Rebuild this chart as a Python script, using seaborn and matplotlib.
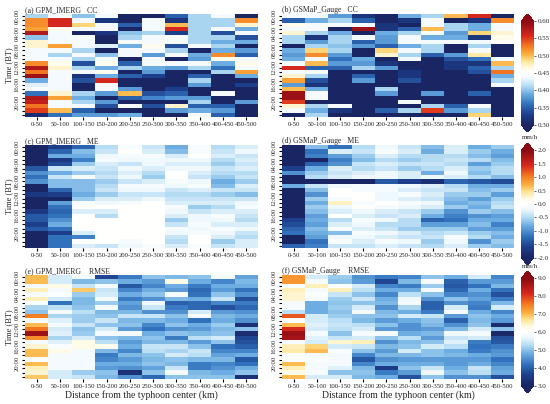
import numpy as np
import pandas as pd
import seaborn as sns
import matplotlib.pyplot as plt
from matplotlib.colors import LinearSegmentedColormap

distance = ["0-50", "50-100", "100-150", "150-200", "200-250",
            "250-300", "300-350", "350-400", "400-450", "450-500"]
time_labels = ["00:00", "04:00", "08:00", "12:00", "16:00", "20:00"]
time_rows = [0, 4, 8, 12, 16, 20]

# values per distance bin (outer list), 24 hourly rows each (inner list)
cc_imerg = [
    [0.41, 0.52, 0.52, 0.51, 0.58, 0.40, 0.47, 0.47, 0.44, 0.44, 0.44, 0.52, 0.58, 0.53, 0.59, 0.39, 0.43, 0.44, 0.36, 0.58, 0.57, 0.53, 0.55, 0.31],
    [0.44, 0.56, 0.56, 0.46, 0.44, 0.44, 0.44, 0.51, 0.44, 0.41, 0.44, 0.46, 0.47, 0.44, 0.44, 0.44, 0.44, 0.44, 0.47, 0.51, 0.44, 0.44, 0.50, 0.36],
    [0.40, 0.44, 0.49, 0.44, 0.29, 0.44, 0.44, 0.44, 0.41, 0.44, 0.41, 0.34, 0.41, 0.44, 0.32, 0.34, 0.29, 0.29, 0.41, 0.39, 0.41, 0.44, 0.35, 0.38],
    [0.44, 0.32, 0.44, 0.44, 0.32, 0.29, 0.29, 0.43, 0.29, 0.40, 0.44, 0.46, 0.39, 0.46, 0.39, 0.56, 0.44, 0.44, 0.38, 0.29, 0.38, 0.34, 0.29, 0.38],
    [0.29, 0.29, 0.35, 0.29, 0.40, 0.41, 0.44, 0.39, 0.44, 0.44, 0.29, 0.35, 0.41, 0.29, 0.35, 0.29, 0.29, 0.38, 0.50, 0.35, 0.29, 0.44, 0.29, 0.39],
    [0.29, 0.44, 0.44, 0.44, 0.41, 0.44, 0.44, 0.46, 0.44, 0.38, 0.44, 0.44, 0.39, 0.38, 0.33, 0.29, 0.29, 0.29, 0.34, 0.37, 0.29, 0.34, 0.29, 0.29],
    [0.35, 0.32, 0.50, 0.56, 0.33, 0.44, 0.44, 0.34, 0.41, 0.44, 0.29, 0.44, 0.38, 0.29, 0.29, 0.29, 0.29, 0.33, 0.35, 0.38, 0.29, 0.47, 0.38, 0.29],
    [0.41, 0.41, 0.41, 0.41, 0.41, 0.41, 0.41, 0.44, 0.29, 0.39, 0.38, 0.44, 0.41, 0.29, 0.35, 0.41, 0.38, 0.29, 0.29, 0.38, 0.41, 0.35, 0.39, 0.44],
    [0.44, 0.41, 0.41, 0.44, 0.34, 0.41, 0.39, 0.41, 0.39, 0.52, 0.46, 0.39, 0.36, 0.41, 0.29, 0.29, 0.29, 0.29, 0.44, 0.29, 0.29, 0.35, 0.38, 0.35],
    [0.29, 0.52, 0.47, 0.39, 0.44, 0.34, 0.39, 0.29, 0.38, 0.35, 0.44, 0.46, 0.44, 0.51, 0.39, 0.29, 0.33, 0.29, 0.29, 0.29, 0.38, 0.29, 0.29, 0.29],
]
cc_gsmap = [
    [0.44, 0.35, 0.46, 0.44, 0.47, 0.41, 0.41, 0.29, 0.39, 0.38, 0.39, 0.44, 0.56, 0.44, 0.47, 0.51, 0.38, 0.50, 0.59, 0.59, 0.55, 0.47, 0.44, 0.29],
    [0.44, 0.39, 0.44, 0.44, 0.41, 0.32, 0.38, 0.41, 0.49, 0.52, 0.44, 0.50, 0.35, 0.44, 0.41, 0.34, 0.32, 0.39, 0.44, 0.44, 0.29, 0.41, 0.39, 0.41],
    [0.38, 0.41, 0.44, 0.29, 0.39, 0.41, 0.41, 0.40, 0.41, 0.38, 0.36, 0.38, 0.35, 0.29, 0.29, 0.29, 0.29, 0.29, 0.29, 0.29, 0.29, 0.44, 0.32, 0.29],
    [0.32, 0.35, 0.44, 0.59, 0.29, 0.44, 0.35, 0.38, 0.29, 0.29, 0.39, 0.38, 0.41, 0.29, 0.35, 0.38, 0.29, 0.29, 0.29, 0.29, 0.29, 0.29, 0.29, 0.29],
    [0.29, 0.29, 0.32, 0.32, 0.39, 0.38, 0.38, 0.35, 0.49, 0.47, 0.29, 0.32, 0.38, 0.29, 0.29, 0.29, 0.29, 0.41, 0.38, 0.29, 0.29, 0.29, 0.35, 0.29],
    [0.39, 0.32, 0.29, 0.35, 0.41, 0.44, 0.44, 0.39, 0.44, 0.41, 0.44, 0.29, 0.29, 0.32, 0.32, 0.34, 0.29, 0.29, 0.29, 0.29, 0.44, 0.29, 0.41, 0.29],
    [0.41, 0.44, 0.44, 0.50, 0.44, 0.39, 0.44, 0.41, 0.41, 0.35, 0.29, 0.29, 0.29, 0.29, 0.29, 0.29, 0.29, 0.29, 0.38, 0.29, 0.29, 0.41, 0.55, 0.29],
    [0.50, 0.29, 0.41, 0.41, 0.38, 0.39, 0.44, 0.29, 0.29, 0.38, 0.34, 0.32, 0.32, 0.29, 0.29, 0.29, 0.29, 0.29, 0.29, 0.29, 0.29, 0.35, 0.38, 0.29],
    [0.56, 0.32, 0.39, 0.39, 0.49, 0.32, 0.44, 0.41, 0.44, 0.48, 0.36, 0.32, 0.35, 0.34, 0.29, 0.29, 0.29, 0.29, 0.35, 0.29, 0.29, 0.44, 0.41, 0.49],
    [0.29, 0.52, 0.44, 0.44, 0.47, 0.46, 0.45, 0.29, 0.29, 0.29, 0.44, 0.50, 0.41, 0.53, 0.39, 0.41, 0.44, 0.29, 0.29, 0.29, 0.29, 0.29, 0.29, 0.29],
]
me_imerg = [
    [-2.2, -2.2, -2.2, -2.2, -2.2, -1.4, -1.0, -1.2, -1.0, -2.2, -2.2, -1.7, -2.2, -2.2, -2.2, -1.7, -1.4, -1.4, -1.6, -1.4, -2.2, -2.2, -2.2, -2.2],
    [-1.6, -1.3, -0.8, -1.7, -1.5, -0.4, -0.8, -0.4, -0.7, -0.7, -1.3, -1.6, -2.2, -0.9, -1.2, -1.3, -1.2, -1.0, -0.8, -1.2, -1.6, -1.2, -1.2, -1.2],
    [-1.3, -0.7, -0.8, -1.1, -0.6, -0.3, -0.6, -0.1, -0.7, -0.7, -0.7, -0.8, -0.6, -0.1, 0.0, -0.3, 0.0, 0.0, 0.0, 0.0, -0.3, -1.1, 0.0, -0.3],
    [-0.5, -0.4, -0.2, -0.1, -0.3, -0.4, -0.5, -0.4, -0.6, -0.5, -0.4, -0.6, -0.3, -0.2, 0.0, -0.3, -0.5, 0.0, 0.0, 0.0, 0.0, 0.0, 0.0, -0.4],
    [-0.1, 0.0, -0.1, -0.2, -0.4, -0.2, -0.3, -0.2, -0.4, -0.1, -0.2, -0.4, -0.3, -0.1, 0.0, 0.0, 0.0, 0.0, 0.0, 0.0, 0.0, 0.0, -0.1, -0.2],
    [-0.4, -0.3, -0.1, -0.2, -0.2, -0.3, -0.5, -0.6, -0.3, -0.1, -0.2, -0.4, -0.2, 0.0, 0.0, 0.0, 0.0, 0.0, 0.0, 0.0, 0.0, 0.0, 0.0, -0.1],
    [-0.8, -0.7, -0.3, -0.2, -0.3, -0.2, 0.0, 0.0, -0.1, -0.2, -0.4, -0.5, -0.4, -0.3, -0.1, -0.2, -0.3, -0.6, -0.4, -0.1, -0.2, -0.4, -0.5, -0.3],
    [-0.1, -0.1, 0.0, -0.2, -0.3, -0.2, -0.3, -0.4, -0.2, -0.1, -0.3, -0.5, -0.4, -0.3, -0.6, -0.4, -0.2, -0.2, -0.1, -0.2, -0.1, 0.0, 0.0, -0.1],
    [-0.5, -0.4, -0.3, -0.5, -0.6, -0.4, -0.5, -0.6, -0.8, -0.7, -0.4, -0.6, -0.4, -0.3, -0.5, -0.3, -0.1, -0.2, -0.3, -0.1, -0.2, -0.3, -0.6, -0.4],
    [-0.3, -0.2, -0.4, -0.3, -0.4, -0.3, -0.5, -0.4, -0.6, -0.3, -0.4, -0.7, -0.4, -0.2, -0.1, -0.3, -0.4, -0.5, -0.3, -0.2, -0.4, -0.5, -0.3, -0.3],
]
me_gsmap = [
    [-2.2, -2.2, -2.2, -2.2, -2.2, -1.6, -1.0, -2.2, -2.2, -0.8, -2.2, -2.2, -2.2, -2.2, -2.2, -2.2, -2.2, -1.6, -1.5, -1.3, -1.2, -2.0, -2.2, -1.3],
    [-0.7, -1.2, -1.1, -2.0, -1.3, -0.8, -0.6, -0.5, -2.2, -0.4, -0.7, -1.0, -0.6, -0.8, -0.6, -0.7, -0.9, -0.8, -0.9, -0.7, -0.8, -0.9, -1.2, -1.1],
    [-1.2, -0.3, -0.9, -1.1, -1.0, -0.3, -0.4, -0.3, -2.2, -0.2, 0.0, 0.0, -0.1, 0.3, -0.2, -0.3, 0.0, -0.5, -0.3, -0.1, -0.7, -0.2, -0.1, -0.4],
    [-0.5, -0.4, -0.6, -0.7, -0.4, -0.5, -0.3, -0.2, -2.1, -0.1, -0.1, 0.0, 0.0, -0.1, 0.0, -0.2, -0.3, -0.1, -0.2, -0.3, -0.1, -0.2, -0.3, -0.4],
    [-0.2, -0.1, -0.3, -0.5, -0.3, -0.4, -0.2, -0.2, -1.4, -0.1, -0.1, -0.2, -0.2, 0.0, -0.1, -0.3, -0.4, -0.2, -0.5, -0.4, -0.2, -0.3, -0.1, -0.3],
    [-0.4, -0.3, -0.5, -0.6, -0.4, -0.6, -0.3, -0.3, -1.6, -0.2, -0.3, -0.1, -0.3, -0.1, -0.2, -0.4, -0.3, -0.5, -0.5, -0.6, -0.3, -0.4, -0.2, -0.4],
    [-0.7, -0.8, -0.5, -0.5, -0.4, -0.5, -0.8, -0.2, -1.8, -0.3, -0.4, -0.3, -0.4, -0.2, -0.3, -0.6, -0.8, -1.3, -0.9, -0.6, -0.5, -0.4, -0.6, -0.5],
    [-0.3, -0.3, -0.5, -0.4, -0.5, -0.3, -0.2, -0.3, -1.3, -0.5, -0.4, -0.6, -0.7, -0.8, -0.6, -1.0, -1.1, -1.2, -0.9, -0.6, -0.4, -0.1, -0.2, -0.3],
    [-0.8, -0.6, -0.7, -0.5, -0.9, -0.6, -0.7, -0.5, -1.4, -0.8, -0.7, -0.6, -0.9, -0.7, -0.8, -0.6, -1.0, -0.8, -0.7, -0.9, -0.6, -0.5, -1.0, -0.6],
    [-0.6, -0.8, -0.9, -0.7, -0.6, -0.5, -0.5, -0.7, -1.5, -0.8, -0.6, -0.9, -0.6, -0.5, -0.4, -0.7, -0.9, -0.8, -1.1, -0.9, -0.7, -0.8, -0.6, -0.7],
]
rmse_imerg = [
    [7.0, 7.0, 5.8, 6.5, 5.8, 6.5, 5.9, 5.2, 5.0, 7.5, 5.8, 7.0, 7.6, 8.8, 7.4, 5.8, 6.4, 7.0, 7.0, 5.9, 7.0, 6.5, 6.4, 6.9],
    [5.5, 5.5, 6.3, 5.8, 5.9, 5.5, 4.2, 5.3, 5.8, 5.2, 5.6, 5.8, 5.5, 5.6, 5.2, 5.6, 5.9, 6.3, 5.8, 5.8, 5.8, 5.8, 5.5, 5.5],
    [5.8, 4.9, 5.4, 6.9, 5.1, 4.9, 4.9, 5.0, 5.3, 5.1, 5.1, 5.4, 5.0, 5.1, 5.5, 6.3, 6.3, 5.8, 5.8, 5.8, 5.8, 5.8, 5.1, 5.4],
    [3.7, 5.0, 5.8, 5.4, 5.5, 5.8, 5.1, 5.8, 4.9, 5.0, 5.4, 5.0, 5.5, 5.8, 5.0, 5.3, 6.2, 4.9, 4.3, 4.4, 4.8, 4.6, 5.0, 4.9],
    [4.3, 4.8, 3.9, 4.4, 4.8, 4.3, 4.7, 4.5, 4.9, 5.4, 4.9, 5.0, 4.6, 5.8, 4.9, 4.6, 4.8, 4.4, 4.9, 4.6, 4.8, 4.5, 3.3, 4.5],
    [5.0, 4.6, 4.4, 4.8, 5.0, 4.5, 5.7, 5.4, 4.5, 5.4, 4.9, 4.4, 4.2, 4.8, 5.0, 4.9, 5.4, 5.3, 5.0, 4.9, 5.0, 4.7, 5.0, 4.1],
    [4.9, 6.3, 4.8, 4.6, 5.8, 4.9, 4.0, 4.3, 4.5, 5.0, 4.8, 5.0, 4.5, 5.0, 4.3, 4.9, 5.4, 5.2, 5.5, 5.0, 4.9, 5.4, 5.8, 5.0],
    [5.0, 4.8, 4.3, 4.1, 4.2, 4.8, 4.1, 4.1, 5.5, 5.8, 4.2, 4.8, 4.6, 4.9, 5.3, 4.6, 5.0, 5.4, 5.3, 4.9, 4.3, 4.3, 4.9, 5.0],
    [5.8, 4.4, 4.8, 4.6, 5.0, 5.4, 4.4, 3.8, 4.6, 4.9, 4.8, 5.1, 4.9, 5.0, 5.5, 5.0, 4.2, 4.4, 4.7, 4.9, 4.4, 4.5, 4.8, 5.0],
    [4.7, 4.9, 4.8, 4.2, 4.5, 3.8, 4.3, 4.1, 4.5, 4.8, 4.5, 3.3, 5.0, 3.2, 3.7, 3.8, 4.0, 4.4, 4.8, 3.9, 4.2, 4.8, 5.0, 3.3],
]
rmse_gsmap = [
    [7.3, 7.3, 5.9, 6.5, 6.4, 6.4, 5.8, 5.8, 5.3, 7.8, 5.9, 7.0, 8.2, 8.8, 8.7, 5.8, 6.5, 6.6, 5.9, 5.9, 7.0, 6.5, 6.3, 7.0],
    [5.5, 5.8, 6.5, 5.8, 5.9, 5.8, 4.8, 4.8, 4.8, 5.5, 5.5, 5.6, 5.5, 5.8, 5.6, 5.5, 6.8, 7.0, 5.8, 5.9, 5.8, 5.8, 5.8, 5.5],
    [5.1, 5.0, 5.9, 6.5, 5.4, 5.1, 5.0, 5.1, 5.0, 5.1, 5.3, 5.4, 5.3, 5.0, 5.4, 6.4, 5.5, 5.9, 5.8, 5.8, 5.8, 5.6, 5.0, 5.5],
    [4.5, 4.6, 5.5, 5.3, 5.0, 5.4, 5.0, 5.5, 5.8, 5.0, 4.9, 5.3, 5.5, 5.8, 5.5, 6.5, 5.4, 5.0, 4.4, 3.9, 4.4, 4.9, 5.0, 4.9],
    [4.3, 3.7, 4.4, 4.8, 4.4, 4.8, 4.9, 4.5, 4.9, 5.0, 4.6, 5.0, 4.6, 5.8, 5.0, 4.5, 4.9, 4.6, 4.9, 4.5, 4.8, 3.5, 4.3, 4.8],
    [4.4, 4.9, 4.3, 4.8, 5.3, 5.7, 5.8, 5.2, 4.8, 5.5, 4.8, 4.5, 4.5, 4.8, 5.3, 4.9, 5.0, 5.5, 4.9, 4.6, 4.8, 5.0, 4.6, 3.8],
    [5.0, 5.8, 5.1, 5.8, 5.0, 4.5, 4.0, 4.0, 4.3, 5.4, 5.0, 4.9, 4.6, 4.9, 4.6, 5.0, 5.5, 5.0, 5.0, 4.6, 4.8, 5.4, 5.7, 5.0],
    [4.8, 4.0, 3.9, 4.1, 4.4, 5.0, 4.5, 5.5, 5.8, 4.6, 4.0, 4.5, 4.9, 5.7, 5.4, 5.6, 5.3, 4.8, 4.9, 4.6, 4.6, 4.8, 5.0, 4.5],
    [5.5, 4.6, 4.2, 4.8, 4.5, 4.7, 4.4, 4.3, 4.8, 5.0, 4.9, 5.0, 5.5, 5.8, 5.5, 4.3, 4.2, 4.3, 4.8, 4.6, 4.8, 5.4, 5.3, 4.5],
    [4.4, 4.6, 4.9, 4.2, 3.8, 4.3, 4.9, 5.5, 4.4, 4.8, 4.6, 3.2, 5.0, 3.1, 3.8, 3.9, 4.3, 4.5, 4.6, 4.2, 4.4, 4.7, 4.8, 3.8],
]

cmap = LinearSegmentedColormap.from_list("bwr_custom", [
    (0.00, "#1a2563"), (0.10, "#1d3f8c"), (0.20, "#3272bd"),
    (0.30, "#6eaee2"), (0.38, "#b8def4"), (0.45, "#eef8fd"),
    (0.50, "#ffffff"), (0.55, "#fffbe6"), (0.62, "#fde28e"),
    (0.68, "#fbb040"), (0.76, "#f47a20"), (0.86, "#d8281e"),
    (1.00, "#8b0a14"),
])

W, H = 550, 404


def rect(x0, y0, x1, y1):
    return [x0 / W, 1 - y1 / H, (x1 - x0) / W, (y1 - y0) / H]


def main() -> None:
    sns.set_style("white")
    plt.rcParams["font.family"] = ["Liberation Serif", "DejaVu Serif"]
    plt.rcParams["axes.unicode_minus"] = False

    fig = plt.figure(figsize=(5.5, 4.04), dpi=100)

    rows = [
        ("CC", cc_imerg, cc_gsmap, 0.30, 0.60, [0.30, 0.35, 0.40, 0.45, 0.50, 0.55, 0.60], "%.2f"),
        ("ME", me_imerg, me_gsmap, -2.0, 2.0, [-2.0, -1.5, -1.0, -0.5, 0.0, 0.5, 1.0, 1.5, 2.0], "%.1f"),
        ("RMSE", rmse_imerg, rmse_gsmap, 3.0, 9.0, [3.0, 4.0, 5.0, 6.0, 7.0, 8.0, 9.0], "%.1f"),
    ]
    rows_y = [(14, 117), (145, 248), (275, 379)]
    cols_x = [(25, 258), (282, 514)]
    cbar_y = [(14, 132), (143, 265), (271, 393)]
    letters = "abcdef"
    products = ["GPM_IMERG", "GSMaP_Gauge"]
    gaps = {"CC": "   ", "ME": "   ", "RMSE": "    "}

    for i, (metric, d_imerg, d_gsmap, vmin, vmax, cticks, fmt) in enumerate(rows):
        mesh = None
        for j, data in enumerate([d_imerg, d_gsmap]):
            ax = fig.add_axes(rect(cols_x[j][0], rows_y[i][0], cols_x[j][1], rows_y[i][1]))
            df = pd.DataFrame(np.array(data).T, columns=distance)
            sns.heatmap(df, ax=ax, cmap=cmap, vmin=vmin, vmax=vmax, cbar=False,
                        xticklabels=distance, yticklabels=False)
            mesh = ax.collections[0]

            ax.set_xticks(np.arange(len(distance)) + 0.5)
            ax.set_xticklabels(distance, rotation=0, fontsize=4.85)
            ax.set_yticks(np.array(time_rows) + 0.5)
            ax.set_yticklabels(time_labels, rotation=90, va="center", fontsize=4.8)
            ax.set_yticks(np.arange(24) + 0.5, minor=True)
            ax.tick_params(axis="both", which="both", direction="out", length=2.2,
                           width=0.8, color="black", pad=1.5, bottom=True, left=True)

            label = f"({letters[2 * i + j]}) {products[j]}{gaps[metric]}{metric}"
            ax.set_title(label, loc="left", fontsize=5.6, pad=1.5)
            ax.set_ylabel("Time (BT)" if j == 0 else "", fontsize=6.0, labelpad=1.5)
            ax.set_xlabel("Distance from the typhoon center (km)" if i == 2 else "",
                          fontsize=7.0, labelpad=1)

        cax = fig.add_axes(rect(521, cbar_y[i][0], 534, cbar_y[i][1]))
        cb = fig.colorbar(mesh, cax=cax, extend="both", extendfrac=0.07, ticks=cticks, format=fmt)
        cb.outline.set_visible(False)
        cb.ax.tick_params(labelsize=5.0, length=1.5, width=0.5, pad=1)

    fig.text(530 / W, 1 - 137 / H, "mm/h", ha="center", va="center", fontsize=5.0)
    fig.text(530 / W, 1 - 266 / H, "mm/h", ha="center", va="center", fontsize=5.0)

    fig.savefig("out.png", dpi=100)


if __name__ == "__main__":
    main()
